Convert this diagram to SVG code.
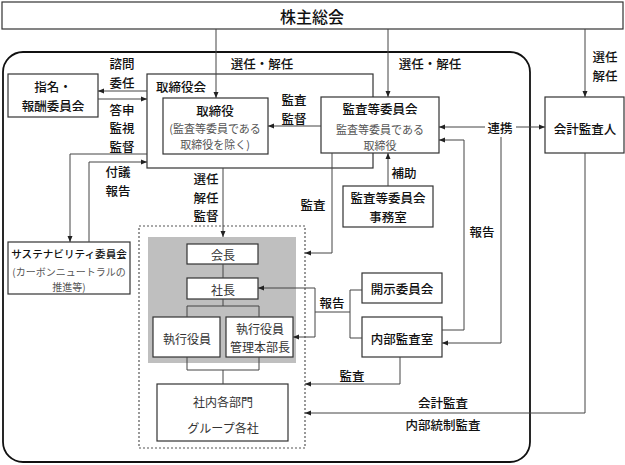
<svg xmlns="http://www.w3.org/2000/svg" width="625" height="465" viewBox="0 0 625 465">
<defs>
<marker id="ah" markerWidth="6" markerHeight="6" refX="6" refY="3" orient="auto" markerUnits="userSpaceOnUse"><path d="M0,0.5 L6,3 L0,5.5 z" fill="#222"/></marker>
<style>
text{font-family:"Noto Sans CJK JP","Noto Sans",sans-serif;text-anchor:middle;dominant-baseline:central;fill:#111}
.t{font-size:12.5px;font-weight:500}
.big{font-size:16px;font-weight:500}
.s{font-size:11px;fill:#555}
.m{font-size:12px;fill:#333}
.box{fill:#fff;stroke:#333;stroke-width:1.2}
.c line,.c polyline{stroke:#444;stroke-width:1;fill:none}
.a{marker-end:url(#ah)}
</style>
</defs>
<rect x="0" y="0" width="625" height="465" fill="#fff"/>
<rect x="3" y="52" width="527" height="410" rx="20" ry="20" fill="none" stroke="#111" stroke-width="1.8"/>

<g id="kabunushi"><rect class="box" x="2" y="2" width="621" height="27"/><text class="big" x="312" y="16">株主総会</text></g>

<g id="shimei"><rect class="box" x="8" y="74" width="90" height="43"/><text class="t"><tspan x="53" y="86">指名・</tspan><tspan x="53" y="104.5">報酬委員会</tspan></text></g>

<g id="torishimariyakukai"><rect class="box" x="147" y="74" width="226" height="94"/><text class="t" x="181" y="86">取締役会</text></g>

<g id="torishimariyaku"><rect class="box" x="163" y="98" width="105" height="56"/><text class="t" x="215" y="110">取締役</text><text class="s"><tspan x="215" y="128">(監査等委員である</tspan><tspan x="215" y="144">取締役を除く)</tspan></text></g>

<g id="kansa-iinkai"><rect class="box" x="321" y="97" width="118" height="56"/><text class="t" x="380" y="108">監査等委員会</text><text class="s"><tspan x="380" y="129">監査等委員である</tspan><tspan x="380" y="145">取締役</tspan></text></g>

<g id="kaikei"><rect class="box" x="545" y="97" width="79" height="56"/><text class="t" x="585" y="128">会計監査人</text></g>

<g id="jimushitsu"><rect class="box" x="343" y="186" width="90" height="41"/><text class="t"><tspan x="388" y="197">監査等委員会</tspan><tspan x="388" y="215.5">事務室</tspan></text></g>

<g id="sustainability"><rect class="box" x="8" y="242" width="122" height="52"/><text x="69" y="253" style="font-size:10.6px;font-weight:500">サステナビリティ委員会</text><text class="s" style="font-size:10px"><tspan x="69" y="271">(カーボンニュートラルの</tspan><tspan x="69" y="286">推進等)</tspan></text></g>

<g id="executive-area"><rect x="139" y="226" width="166" height="222" fill="none" stroke="#555" stroke-width="1.2" stroke-dasharray="2 2"/><rect x="148" y="237" width="148" height="126" fill="#bfbfbf"/></g>

<g id="kaicho"><rect class="box" x="187" y="244" width="71" height="20"/><text class="m" x="223" y="254">会長</text></g>
<g id="shacho"><rect class="box" x="187" y="278" width="71" height="21"/><text class="m" x="223" y="289">社長</text></g>
<g id="shikko"><rect class="box" x="153" y="317" width="67" height="40"/><text class="m" x="187" y="338">執行役員</text></g>
<g id="shikko-kanri"><rect class="box" x="226" y="317" width="67" height="40"/><text class="m"><tspan x="260" y="328">執行役員</tspan><tspan x="260" y="346">管理本部長</tspan></text></g>
<g id="shanai"><rect class="box" x="157" y="384" width="131" height="57"/><text class="m" x="223" y="401">社内各部門</text><text class="m" x="223" y="427">グループ各社</text></g>

<g id="kaiji"><rect class="box" x="362" y="273" width="80" height="30"/><text class="t" x="402" y="288">開示委員会</text></g>
<g id="naibu"><rect class="box" x="362" y="317" width="80" height="40"/><text class="t" x="402" y="338">内部監査室</text></g>

<g id="connectors" class="c">
<line class="a" x1="216" y1="29" x2="216" y2="98"/>
<line class="a" x1="388" y1="29" x2="388" y2="97"/>
<line class="a" x1="585" y1="29" x2="585" y2="97"/>
<line class="a" x1="147" y1="91" x2="98" y2="91"/>
<line class="a" x1="98" y1="99" x2="147" y2="99"/>
<polyline class="a" points="147,154 70,154 70,242"/>
<polyline class="a" points="89,242 89,162 147,162"/>
<line class="a" x1="321" y1="126" x2="268" y2="126"/>
<line class="a" x1="223" y1="168" x2="223" y2="237"/>
<polyline class="a" points="332,153 332,253 305,253"/>
<line class="a" x1="388" y1="186" x2="388" y2="153"/>
<line class="a" x1="485" y1="127" x2="439" y2="127"/>
<line class="a" x1="516" y1="127" x2="545" y2="127"/>
<polyline class="a" points="501,137 501,343 442,343"/>
<polyline class="a" points="442,330 464,330 464,140 439,140"/>
<polyline class="a" points="400,357 400,384 305,384"/>
<polyline class="a" points="585,153 585,413 305,413"/>
<line x1="223" y1="264" x2="223" y2="278"/>
<polyline points="223,299 223,306"/>
<polyline points="187,317 187,306 259,306 259,317"/>
<polyline points="187,357 187,370 259,370 259,357"/>
<line x1="223" y1="370" x2="223" y2="384"/>
<polyline points="362,290 350,290 350,338 362,338"/>
<line x1="350" y1="312" x2="315" y2="312"/>
<line x1="315" y1="288" x2="315" y2="337"/>
<line class="a" x1="315" y1="288" x2="258" y2="288"/>
<line class="a" x1="315" y1="337" x2="293" y2="337"/>
</g>

<g id="labels">
<text class="t" x="262" y="63">選任・解任</text>
<text class="t" x="430" y="63">選任・解任</text>
<text class="t"><tspan x="605" y="56">選任</tspan><tspan x="605" y="74.5">解任</tspan></text>
<text class="t"><tspan x="122" y="63">諮問</tspan><tspan x="122" y="81.5">委任</tspan></text>
<text class="t" x="122" y="109">答申</text>
<text class="t"><tspan x="122" y="127">監視</tspan><tspan x="122" y="145.5">監督</tspan></text>
<text class="t"><tspan x="118" y="171">付議</tspan><tspan x="118" y="189.5">報告</tspan></text>
<text class="t"><tspan x="206" y="178">選任</tspan><tspan x="206" y="196.5">解任</tspan><tspan x="206" y="215">監督</tspan></text>
<text class="t"><tspan x="294" y="99">監査</tspan><tspan x="294" y="117.5">監督</tspan></text>
<text class="t" x="313" y="204">監査</text>
<text class="t" x="404" y="172">補助</text>
<text class="t" x="482" y="231">報告</text>
<text class="t" x="500" y="127">連携</text>
<text class="t" x="332" y="302">報告</text>
<text class="t" x="352" y="375">監査</text>
<text class="t" x="443" y="402">会計監査</text>
<text class="t" x="443" y="424">内部統制監査</text>
</g>
</svg>
